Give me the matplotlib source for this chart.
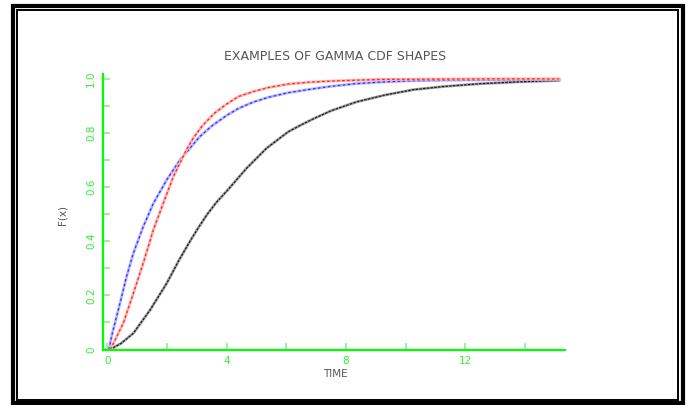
import matplotlib
matplotlib.use("Agg")
import matplotlib.pyplot as plt
from matplotlib.patches import Rectangle

# ---- data ----
black_x = [0.08, 0.45, 0.87, 1.43, 1.99, 2.4, 2.77, 3.05, 3.33, 3.65, 4.0, 4.67, 5.34, 6.07, 6.5,
           6.9, 7.5, 8.36, 9.3, 10.26, 11.3, 12.5, 13.8, 15.15]
black_y = [0.0, 0.022, 0.06, 0.146, 0.245, 0.33, 0.40, 0.45, 0.497, 0.543, 0.585, 0.67, 0.744,
           0.805, 0.83, 0.852, 0.882, 0.915, 0.94, 0.96, 0.972, 0.982, 0.989, 0.994]

red_x = [0.1, 0.53, 0.87, 1.2, 1.54, 1.87, 2.21, 2.66, 2.9, 3.21, 3.6, 4.0, 4.4, 4.89, 5.4, 6.07,
         6.8, 7.5, 9.14, 11.0, 13.0, 15.15]
red_y = [0.0, 0.097, 0.208, 0.319, 0.442, 0.54, 0.639, 0.74, 0.785, 0.83, 0.874, 0.907, 0.935,
         0.953, 0.968, 0.981, 0.988, 0.992, 0.998, 0.999, 1.0, 1.0]

blue_x = [0.05, 0.14, 0.42, 0.64, 0.87, 1.2, 1.54, 1.99, 2.43, 3.10, 3.5, 4.0, 4.4, 4.89, 5.4,
          6.07, 6.7, 7.47, 8.3, 9.14, 10.2, 11.38, 13.3, 15.15]
blue_y = [0.0, 0.05, 0.171, 0.269, 0.356, 0.454, 0.54, 0.627, 0.70, 0.787, 0.826, 0.865, 0.891,
          0.914, 0.932, 0.949, 0.96, 0.972, 0.982, 0.988, 0.993, 0.995, 0.997, 0.998]

x_major = [0, 4, 8, 12]
x_minor = [0, 2, 4, 6, 8, 10, 12, 14]
y_major = [0, 0.2, 0.4, 0.6, 0.8, 1.0]
y_major_labels = ["0", "0.2", "0.4", "0.6", "0.8", "1.0"]
y_minor = [0.1 * i for i in range(11)]

title = "EXAMPLES OF GAMMA CDF SHAPES"
xlabel = "TIME"
ylabel = "F(x)"

W, H = 690, 405
fig = plt.figure(figsize=(W / 100, H / 100), dpi=100)
fig.patch.set_facecolor("white")

def px2fig(x0, y0, x1, y1):
    return (x0 / W, 1 - y1 / H, (x1 - x0) / W, (y1 - y0) / H)

# frames
l, b, w, h = px2fig(13, 5.5, 683, 402.5)
fig.add_artist(Rectangle((l, b), w, h, transform=fig.transFigure, fill=False,
                         edgecolor="black", linewidth=3.0))
l, b, w, h = px2fig(17, 10, 678, 399.5)
fig.add_artist(Rectangle((l, b), w, h, transform=fig.transFigure, fill=False,
                         edgecolor="black", linewidth=1.4))

ax = fig.add_axes(px2fig(103, 74, 565, 350))
ax.set_xlim(-0.15, 15.35)
ax.set_ylim(-0.002, 1.018)

green = "#00ff00"
light_green = "#a0f0a0"

for s in ["top", "right"]:
    ax.spines[s].set_visible(False)
for s in ["left", "bottom"]:
    ax.spines[s].set_color(green)
    ax.spines[s].set_linewidth(1.6)

# curves: pale halo + darker dotted core
ax.plot(black_x, black_y, color="#a0a0a0", lw=2.0, solid_joinstyle="round")
ax.plot(black_x, black_y, color="#202020", lw=0.9, ls=(0, (2, 1)))
ax.plot(blue_x, blue_y, color="#b4b4ff", lw=2.0, solid_joinstyle="round")
ax.plot(blue_x, blue_y, color="#3030ff", lw=0.9, ls=(0, (2, 2)))
ax.plot(red_x, red_y, color="#ffb0b0", lw=2.0, solid_joinstyle="round")
ax.plot(red_x, red_y, color="#ff2020", lw=0.9, ls=(0, (2, 2)))

ax.set_xticks(x_minor)
ax.set_xticklabels([str(v) if v in x_major else "" for v in x_minor])
ax.set_yticks(y_minor)
ax.set_yticklabels([y_major_labels[y_major.index(round(v, 1))] if round(v, 1) in y_major else ""
                    for v in y_minor])

ax.tick_params(axis="both", direction="in", length=5, width=1.5, color=light_green,
               labelcolor="#33ee33", labelsize=7.5)
ax.tick_params(axis="x", pad=4)
ax.tick_params(axis="y", pad=5)
for lab in ax.get_yticklabels():
    lab.set_rotation(90)
    lab.set_va("center")

fig.text(335 / W, 1 - 57 / H, title, ha="center", va="center", fontsize=9, color="#555555")
fig.text(335 / W, 1 - 374 / H, xlabel, ha="center", va="center", fontsize=7.5, color="#555555")
fig.text(63 / W, 1 - 215 / H, ylabel, ha="center", va="center", fontsize=7.5, color="#555555",
         rotation=90)

fig.savefig("out.png", dpi=100, facecolor="white")
